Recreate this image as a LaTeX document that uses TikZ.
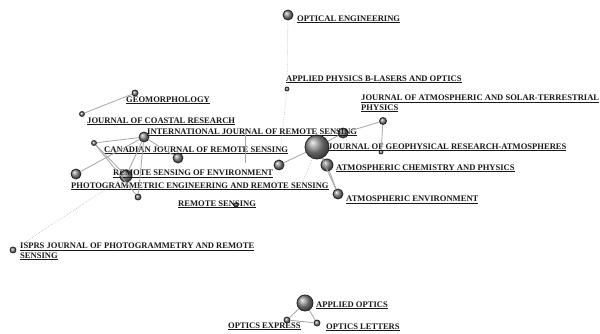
\documentclass[tikz,border=0pt]{standalone}
\usepackage{fontspec}
\setmainfont{Liberation Serif}
\usepackage{tikz}
\usetikzlibrary{positioning}

\begin{document}
\begin{tikzpicture}[x=0.03cm, y=-0.03cm,
  journal/.style={circle, draw=black!85, line width=0.7pt, shading=ball,
    ball color=gray!90, inner sep=0pt},
  link/.style={draw=gray!70, line width=0.7pt},
  cite/.style={draw=gray!60, line width=0.5pt, densely dotted},
  title/.style={anchor=base west, inner sep=0pt, text=black!90,
    font=\fontsize{7.3}{8.4}\selectfont\bfseries, align=left}]

\useasboundingbox (0,0) rectangle (600,333);

% journals
\foreach \n/\x/\y/\r in {opteng/288/15/5, apb/287/89/2, jastp/383/121/3.5,
    ijrs/343/133/5, jgr/317/147/12, jgrsmall/381/152/2, acp/327/165/6,
    ae/338/194/5, cjrsmall/279/165/5, geo/135/93/3, jcr/82/114/2.5,
    intj/144/137/5, pers/94/143/2.5, cjrs/178/158/5, rsleft/76/174/5,
    rse/126/176/6, rsbot/138/197/3, rs/236/205/2, isprs/13/250/3,
    ao/305/303/8, oe/287/320/3, ol/317/323/3}
  \node [journal, minimum size=\r*0.6mm] (\n) at (\x,\y) {};

\coordinate (jgr-end) at (301,186);
\coordinate (v-top) at (245,128);
\coordinate (v-bot) at (245,163);

% labels
\foreach \x/\y/\t [count=\i] in {297/21/OPTICAL ENGINEERING,
    286/81/APPLIED PHYSICS B-LASERS AND OPTICS,
    126/102/GEOMORPHOLOGY,
    87/123/JOURNAL OF COASTAL RESEARCH,
    147/134/INTERNATIONAL JOURNAL OF REMOTE SENSING,
    328/149/JOURNAL OF GEOPHYSICAL RESEARCH-ATMOSPHERES,
    104/152/CANADIAN JOURNAL OF REMOTE SENSING,
    336/170/ATMOSPHERIC CHEMISTRY  AND PHYSICS,
    113/175/REMOTE SENSING OF ENVIRONMENT,
    71/188/PHOTOGRAMMETRIC ENGINEERING AND REMOTE SENSING,
    346/201/ATMOSPHERIC ENVIRONMENT,
    178/206/REMOTE SENSING,
    316/307/APPLIED OPTICS,
    228/328/OPTICS EXPRESS,
    326/329/OPTICS LETTERS}
  \node [title] (label-\i) at (\x,\y) {\underline{\t}};

\node [title] (label-jastp) at (361,110)
  {\underline{JOURNAL OF ATMOSPHERIC AND SOLAR-TERRESTRIAL}\\\underline{PHYSICS}};
\node [title] (label-isprs) at (20,258)
  {\underline{ISPRS JOURNAL OF PHOTOGRAMMETRY  AND REMOTE}\\\underline{SENSING}};

% remote sensing cluster
\draw [link] (geo) -- (jcr);
\draw [link] (pers) -- (intj);
\draw [link] (pers) -- (rse);
\draw [link] (rsleft) -- (intj);
\draw [link] (intj) -- (rse);
\draw [link] (intj) -- (rsbot);
\draw [link] (intj) -- (cjrs);
\draw [link] (pers) -- (rsbot);
\draw [link] (v-top) -- (v-bot);
\draw [cite] (isprs) -- (rse);

% atmosphere cluster
\draw [link] (cjrsmall) -- (jgr);
\draw [link] (jgr) -- (ijrs);
\draw [link] (ijrs) -- (jastp);
\draw [link] (jastp) -- (jgrsmall);
\draw [link] (jgr) -- (acp);
\draw [link] (jgr) -- (ae);
\draw [link] (acp) -- (ae);
\draw [cite] (opteng) -- (apb);
\draw [cite] (apb) -- (cjrsmall);
\draw [cite] (jgr) -- (jgr-end);

% optics cluster
\draw [link] (ao) -- (oe);
\draw [link] (ao) -- (ol);
\draw [link] (oe) -- (ol);

\end{tikzpicture}
\end{document}
